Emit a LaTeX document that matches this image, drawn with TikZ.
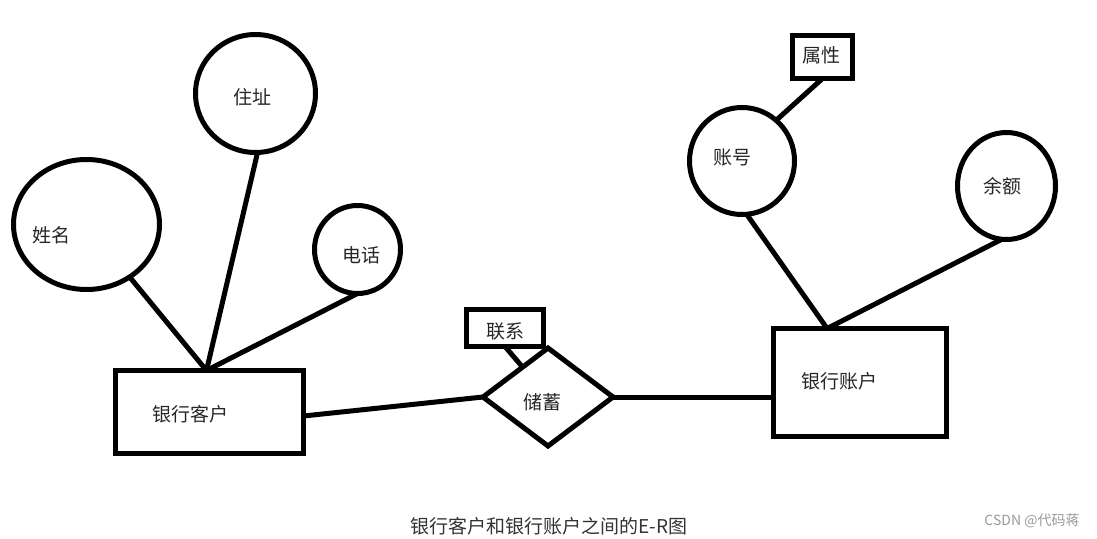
\documentclass[tikz,border=0pt]{standalone}
\usepackage{fontspec}
\setmainfont{Noto Sans CJK SC}
\usetikzlibrary{shapes.geometric,calc}
\begin{document}
\begin{tikzpicture}[x=1pt,y=-1pt,
  every node/.style={font=\fontsize{19}{19}\selectfont, inner sep=0pt, outer sep=0pt, text=black!85},
  attr/.style={draw, ellipse, line width=5pt},
  ent/.style={draw, rectangle, line width=5pt},
  rel/.style={draw, diamond, line width=5pt},
  conn/.style={line width=5pt}]
\useasboundingbox (0,0) rectangle (1097,538);

% left entity and its attributes
\node[ent, minimum width=188pt, minimum height=83pt] (kr) at (209.5,412) {};
\node (tkr) at (190,414) {银行客户};
\node[attr, minimum width=146pt, minimum height=130pt] (xm) at (86.5,224.5) {};
\node (txm) at (51,235) {姓名};
\node[attr, minimum width=120pt, minimum height=118pt] (zz) at (255.5,93.5) {};
\node (tzz) at (252,97) {住址};
\node[attr, minimum width=86pt, minimum height=88pt] (dh) at (357.5,249.5) {};
\node (tdh) at (361,255) {电话};
\coordinate (krt) at ($(kr.north)+(-3,0)$);

% relationship
\node[rel, minimum width=130pt, minimum height=98pt] (ch) at (548,397) {};
\node (tch) at (542,402) {储蓄};
\node[ent, minimum width=77pt, minimum height=37pt] (lx) at (505,328) {};
\node (tlx) at (505,331) {联系};

% right entity and its attributes
\node[ent, minimum width=173pt, minimum height=108pt] (zhr) at (860,382.5) {};
\node (tzhr) at (839,381) {银行账户};
\node[attr, minimum width=105pt, minimum height=107pt] (zh) at (742,161) {};
\node (tzh) at (732,158) {账号};
\node[attr, minimum width=98pt, minimum height=107pt] (ye) at (1006.5,186) {};
\node (tye) at (1002,186) {余额};
\node[ent, minimum width=60pt, minimum height=43pt] (sx) at (822.5,57) {};
\node (tsx) at (821,55) {属性};
\coordinate (zht) at ($(zhr.north west)!0.31!(zhr.north east)$);

% connectors
\draw[conn] (xm) -- (krt);
\draw[conn] (zz.-88) -- (krt);
\draw[conn] (dh.south) -- (krt);
\draw[conn] ($(kr.east)+(0,4)$) -- (ch.west);
\draw[conn] (ch.east) -- (ch.east -| zhr.west);
\draw[conn] (lx.south) -- (ch);
\draw[conn] (zh.-85) -- (zht);
\draw[conn] (ye.-95) -- (zht);
\draw[conn] (sx.south) -- (zh.50);

% caption and watermark
\node[text=black!80] (cap) at (549,526) {银行客户和银行账户之间的E-R图};
\node[font=\fontsize{14}{14}\selectfont, text=black!40] (wm) at (1032,521) {CSDN @代码蒋};
\end{tikzpicture}
\end{document}
